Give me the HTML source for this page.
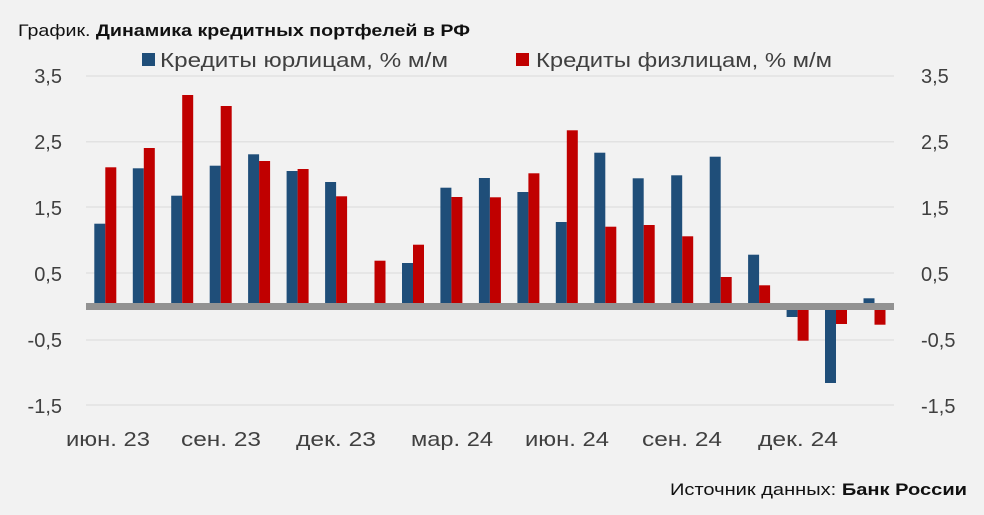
<!DOCTYPE html>
<html><head><meta charset="utf-8"><style>
html,body{margin:0;padding:0;background:#f2f2f2;}
svg{display:block;font-family:"Liberation Sans",sans-serif;}
</style></head><body>
<svg width="984" height="515" viewBox="0 0 984 515">
<rect width="984" height="515" fill="#f2f2f2"/>
<text x="18" y="36" font-size="17" fill="#111" textLength="452" lengthAdjust="spacingAndGlyphs">График. <tspan font-weight="bold">Динамика кредитных портфелей в РФ</tspan></text>
<rect x="142" y="53" width="13" height="13" fill="#1f4e79"/>
<text x="160" y="67" font-size="20" fill="#404040" textLength="288" lengthAdjust="spacingAndGlyphs">Кредиты юрлицам, % м/м</text>
<rect x="516" y="53" width="13" height="13" fill="#c00000"/>
<text x="536" y="67" font-size="20" fill="#404040" textLength="296" lengthAdjust="spacingAndGlyphs">Кредиты физлицам, % м/м</text>
<g stroke="#e2e2e2" stroke-width="1.5">
<line x1="86" x2="894" y1="76" y2="76"/><line x1="86" x2="894" y1="141.7" y2="141.7"/>
<line x1="86" x2="894" y1="207" y2="207"/><line x1="86" x2="894" y1="273" y2="273"/>
<line x1="86" x2="894" y1="340" y2="340"/><line x1="86" x2="894" y1="405" y2="405"/>
</g>
<g font-size="20" fill="#404040" text-anchor="end">
<text x="62" y="83">3,5</text><text x="62" y="149">2,5</text><text x="62" y="215">1,5</text>
<text x="62" y="281">0,5</text><text x="62" y="347">-0,5</text><text x="62" y="413">-1,5</text>
</g>
<g font-size="20" fill="#404040">
<text x="921" y="83">3,5</text><text x="921" y="149">2,5</text><text x="921" y="215">1,5</text>
<text x="921" y="281">0,5</text><text x="921" y="347">-0,5</text><text x="921" y="413">-1,5</text>
</g>
<g fill="#1f4e79">
<rect x="94.3" y="223.7" width="11" height="79.3"/>
<rect x="132.8" y="168.3" width="11" height="134.7"/>
<rect x="171.2" y="195.7" width="11" height="107.3"/>
<rect x="209.7" y="165.7" width="11" height="137.3"/>
<rect x="248.1" y="154.3" width="11" height="148.7"/>
<rect x="286.6" y="171" width="11" height="132"/>
<rect x="325.1" y="182" width="11" height="121"/>
<rect x="402" y="263" width="11" height="40"/>
<rect x="440.4" y="187.7" width="11" height="115.3"/>
<rect x="478.9" y="178" width="11" height="125"/>
<rect x="517.4" y="192" width="11" height="111"/>
<rect x="555.8" y="222" width="11" height="81"/>
<rect x="594.3" y="152.7" width="11" height="150.3"/>
<rect x="632.7" y="178.3" width="11" height="124.7"/>
<rect x="671.2" y="175.3" width="11" height="127.7"/>
<rect x="709.7" y="156.7" width="11" height="146.3"/>
<rect x="748.1" y="254.7" width="11" height="48.3"/>
<rect x="786.6" y="310" width="11" height="7"/>
<rect x="825" y="310" width="11" height="73"/>
<rect x="863.5" y="298.3" width="11" height="4.7"/>
</g>
<g fill="#c00000">
<rect x="105.3" y="167.3" width="11" height="135.7"/>
<rect x="143.8" y="148" width="11" height="155"/>
<rect x="182.2" y="95" width="11" height="208"/>
<rect x="220.7" y="106" width="11" height="197"/>
<rect x="259.1" y="161" width="11" height="142"/>
<rect x="297.6" y="169" width="11" height="134"/>
<rect x="336.1" y="196.3" width="11" height="106.7"/>
<rect x="374.5" y="260.7" width="11" height="42.3"/>
<rect x="413" y="244.7" width="11" height="58.3"/>
<rect x="451.4" y="197" width="11" height="106"/>
<rect x="489.9" y="197.3" width="11" height="105.7"/>
<rect x="528.4" y="173.3" width="11" height="129.7"/>
<rect x="566.8" y="130.3" width="11" height="172.7"/>
<rect x="605.3" y="226.7" width="11" height="76.3"/>
<rect x="643.7" y="225" width="11" height="78"/>
<rect x="682.2" y="236.3" width="11" height="66.7"/>
<rect x="720.7" y="277" width="11" height="26"/>
<rect x="759.1" y="285.3" width="11" height="17.7"/>
<rect x="797.6" y="310" width="11" height="30.7"/>
<rect x="836" y="310" width="11" height="14"/>
<rect x="874.5" y="310" width="11" height="14.7"/>
</g>
<rect x="86" y="303" width="808" height="7" fill="#929292"/>
<g font-size="20" fill="#404040" text-anchor="middle" lengthAdjust="spacingAndGlyphs">
<text x="108" y="446" textLength="84" lengthAdjust="spacingAndGlyphs">июн. 23</text>
<text x="221" y="446" textLength="80" lengthAdjust="spacingAndGlyphs">сен. 23</text>
<text x="336" y="446" textLength="80" lengthAdjust="spacingAndGlyphs">дек. 23</text>
<text x="452" y="446" textLength="82" lengthAdjust="spacingAndGlyphs">мар. 24</text>
<text x="567" y="446" textLength="84" lengthAdjust="spacingAndGlyphs">июн. 24</text>
<text x="682" y="446" textLength="80" lengthAdjust="spacingAndGlyphs">сен. 24</text>
<text x="798" y="446" textLength="80" lengthAdjust="spacingAndGlyphs">дек. 24</text>
</g>
<text x="670" y="495" font-size="17" fill="#111" textLength="297" lengthAdjust="spacingAndGlyphs">Источник данных: <tspan font-weight="bold">Банк России</tspan></text>
</svg>
</body></html>
